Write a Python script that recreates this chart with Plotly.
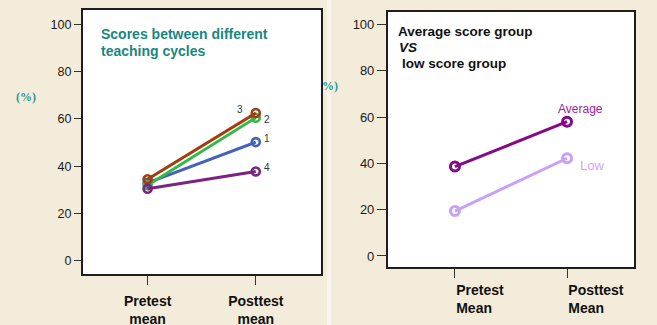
import plotly.graph_objects as go

# Category labels for the two measurement points
cats_left = ["Pretest<br>mean", "Posttest<br>mean"]
cats_right = ["Pretest<br>Mean", "Posttest<br>Mean"]
y_ticks = [0, 20, 40, 60, 80, 100]

# Teaching cycles 1-4: pretest and posttest mean scores (%)
cycle_names = ["1", "2", "3", "4"]
cycle_pre = [33.0, 32.0, 34.5, 30.5]
cycle_post = [50.2, 60.5, 62.5, 37.8]
cycle_colors = ["#4262c0", "#35b84a", "#a23d12", "#7c2282"]

# Average vs low score groups
group_names = ["Average", "Low"]
group_pre = [38.6, 19.4]
group_post = [58.0, 42.2]
group_colors = ["#850a85", "#c9a0f7"]
group_label_colors = ["#a020a8", "#cfa6fb"]

W, H = 657, 325
BG = "#f4ecda"
TEAL = "#17877f"


def px(x):
    return x / W


def py(y):
    return 1 - y / H


fig = go.Figure()

for name, a, b, c in zip(cycle_names, cycle_pre, cycle_post, cycle_colors):
    fig.add_trace(go.Scatter(
        x=[0, 1], y=[a, b], mode="lines+markers", name=name,
        line=dict(color=c, width=3),
        marker=dict(symbol="circle-open", size=8, color=c, line=dict(width=2.6, color=c)),
        xaxis="x", yaxis="y", showlegend=False, cliponaxis=False,
    ))

for name, a, b, c in zip(group_names, group_pre, group_post, group_colors):
    fig.add_trace(go.Scatter(
        x=[0, 1], y=[a, b], mode="lines+markers", name=name,
        line=dict(color=c, width=3),
        marker=dict(symbol="circle-open", size=9, color=c, line=dict(width=3, color=c)),
        xaxis="x2", yaxis="y2", showlegend=False, cliponaxis=False,
    ))

# "(%)" of the right panel, clipped at the edge of the left panel's frame
fig.add_trace(go.Scatter(
    x=[0.23], y=[0.5], mode="text", text=["<b>(%)</b>"],
    textfont=dict(family="Liberation Serif", size=12, color="#2a9890"),
    textposition="middle center", xaxis="x3", yaxis="y3",
    showlegend=False, cliponaxis=True, hoverinfo="skip",
))

axis_common = dict(
    showgrid=False, zeroline=False, showline=True, mirror=True,
    linecolor="#1e1e1e", linewidth=1.5, ticks="outside",
    tickcolor="#333", tickwidth=1, automargin=False,
)

fig.update_layout(
    width=W, height=H,
    margin=dict(l=0, r=0, t=0, b=0, autoexpand=False),
    paper_bgcolor=BG, plot_bgcolor="rgba(0,0,0,0)",
    font=dict(family="Liberation Sans", color="#1a1a1a"),
    xaxis=dict(
        domain=[px(82.7), px(320.7)], range=[-0.6, 1.6], anchor="y",
        tickvals=[0, 1], ticktext=["<b>" + t + "</b>" for t in cats_left],
        ticklen=9, tickfont=dict(size=14, color="#111"),
        ticklabelstandoff=4, **axis_common,
    ),
    yaxis=dict(
        domain=[py(274), py(10)], range=[-5.5, 106], anchor="x",
        tickvals=y_ticks, ticklen=7, tickfont=dict(size=12.5, color="#1a1a1a"),
        ticklabelstandoff=0, **axis_common,
    ),
    xaxis2=dict(
        domain=[px(387.7), px(634.3)], range=[-0.6, 1.6], anchor="y2",
        tickvals=[0, 1], ticktext=["<b>" + t + "</b>" for t in cats_right],
        ticklen=9, tickfont=dict(size=14, color="#111"),
        ticklabelposition="outside right", ticklabelstandoff=9, **axis_common,
    ),
    yaxis2=dict(
        domain=[py(267.3), py(11.7)], range=[-4.9, 105.5], anchor="x2",
        tickvals=y_ticks, ticklen=9, tickfont=dict(size=13, color="#1a1a1a"),
        ticklabelstandoff=0, **axis_common,
    ),
    xaxis3=dict(domain=[px(321.5), px(350)], range=[0, 1], visible=False,
                anchor="y3", fixedrange=True, automargin=False),
    yaxis3=dict(domain=[py(97), py(77)], range=[0, 1], visible=False,
                anchor="x3", fixedrange=True, automargin=False),
)

# Light seam between the two panels
fig.add_shape(type="rect", xref="paper", yref="paper",
              x0=px(327), x1=px(331), y0=0, y1=1,
              fillcolor="#faf5ea", line=dict(width=0), layer="below")
# White plotting areas of both panels
for xr, yr in (("x domain", "y domain"), ("x2 domain", "y2 domain")):
    fig.add_shape(type="rect", xref=xr, yref=yr, x0=0, x1=1, y0=0, y1=1,
                  fillcolor="white", line=dict(width=0), layer="below")

ann = []
# Left panel title
ann.append(dict(x=px(99), y=py(33.5), text="<b>Scores between different</b>",
                font=dict(size=14, color=TEAL)))
ann.append(dict(x=px(99), y=py(51.5), text="<b>teaching cycles</b>",
                font=dict(size=14, color=TEAL)))
# Left y-axis unit
ann.append(dict(x=px(14), y=py(97), text="<b>(%)</b>",
                font=dict(family="Liberation Serif", size=12, color="#2a9890")))
# Right panel title
ann.append(dict(x=px(396), y=py(31.5), text="<b>Average score group</b>",
                font=dict(size=13.5, color="#111")))
ann.append(dict(x=px(397), y=py(48), text="<b><i>VS</i></b>",
                font=dict(size=13.5, color="#111")))
ann.append(dict(x=px(400), y=py(63.5), text="<b>low score group</b>",
                font=dict(size=13.5, color="#111")))
for a in ann:
    a.update(xref="paper", yref="paper", xanchor="left", yanchor="middle",
             showarrow=False)

# Cycle number labels next to the posttest points
cycle_shift = {"1": (11, 4), "2": (11, -2), "3": (-16, 4), "4": (11, 4)}
for name, b in zip(cycle_names, cycle_post):
    dx, dy = cycle_shift[name]
    ann.append(dict(x=1, y=b, xref="x", yref="y", text=name, showarrow=False,
                    xshift=dx, yshift=dy, font=dict(size=10, color="#333")))

# Group labels next to the posttest points
group_shift = {"Average": (13, 13), "Low": (25, -7)}
group_size = {"Average": 12, "Low": 13}
for name, b, c in zip(group_names, group_post, group_label_colors):
    dx, dy = group_shift[name]
    ann.append(dict(x=1, y=b, xref="x2", yref="y2", text=name, showarrow=False,
                    xshift=dx, yshift=dy,
                    font=dict(size=group_size[name], color=c)))

fig.update_layout(annotations=ann)

fig.write_html("out.html")
